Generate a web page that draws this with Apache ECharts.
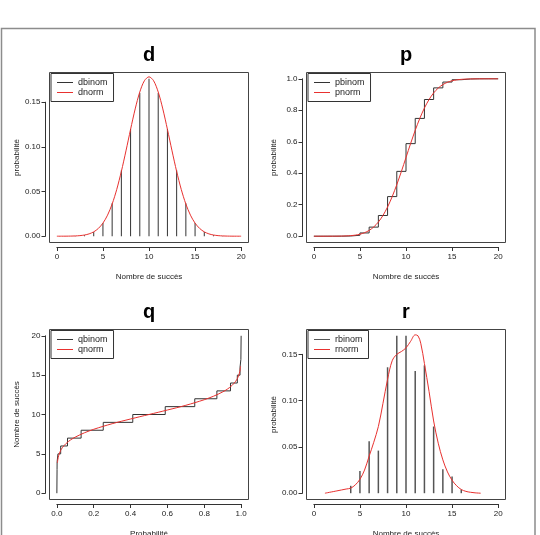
<!DOCTYPE html>
<html>
<head>
<meta charset="utf-8">
<script src="https://cdn.jsdelivr.net/npm/echarts@6/dist/echarts.min.js"></script>
<style>
html, body { margin: 0; padding: 0; background: #fff; }
#chart { width: 540px; height: 535px; }
</style>
</head>
<body>
<div id="chart"></div>
<script>
'use strict';
// nombre de succes (binomiale n = 20, p = 0.5)
var successes = [0, 1, 2, 3, 4, 5, 6, 7, 8, 9, 10, 11, 12, 13, 14, 15, 16, 17, 18, 19, 20];
var dbinomValues = [0.000001, 0.000019, 0.00018, 0.0011, 0.0046, 0.0148, 0.0370, 0.0739, 0.1201, 0.1602, 0.1762,
    0.1602, 0.1201, 0.0739, 0.0370, 0.0148, 0.0046, 0.0011, 0.00018, 0.000019, 0.000001];
var pbinomValues = [0.000001, 0.00002, 0.0002, 0.0013, 0.0059, 0.0207, 0.0577, 0.1316, 0.2517, 0.4119, 0.5881,
    0.7483, 0.8684, 0.9423, 0.9793, 0.9941, 0.9987, 0.9998, 1.0, 1.0, 1.0];

// courbes normales
var normX = [0, 0.5, 1, 1.5, 2, 2.5, 3, 3.5, 4, 4.5, 5, 5.5, 6, 6.5, 7, 7.5, 8, 8.5, 9, 9.5, 10,
    10.5, 11, 11.5, 12, 12.5, 13, 13.5, 14, 14.5, 15, 15.5, 16, 16.5, 17, 17.5, 18, 18.5, 19, 19.5, 20];
var dnormValues = [0.00001, 0.00002, 0.00005, 0.00013, 0.0003, 0.00064, 0.00133, 0.00261, 0.00487, 0.00866, 0.01464,
    0.02355, 0.03602, 0.05241, 0.07254, 0.0955, 0.11959, 0.14247, 0.16143, 0.174, 0.17841,
    0.174, 0.16143, 0.14247, 0.11959, 0.0955, 0.07254, 0.05241, 0.03602, 0.02355, 0.01464,
    0.00866, 0.00487, 0.00261, 0.00133, 0.00064, 0.0003, 0.00013, 0.00005, 0.00002, 0.00001];
var pnormValues = [0.0, 0.0, 0.0, 0.0001, 0.0002, 0.0004, 0.0009, 0.0018, 0.0036, 0.0069, 0.0127,
    0.0221, 0.0368, 0.0588, 0.0899, 0.1318, 0.1855, 0.2512, 0.3274, 0.4115, 0.5,
    0.5885, 0.6726, 0.7488, 0.8145, 0.8682, 0.9101, 0.9412, 0.9632, 0.9779, 0.9873,
    0.9931, 0.9964, 0.9982, 0.9991, 0.9996, 0.9998, 0.9999, 1.0, 1.0, 1.0];

// quantiles
var qbinomProbs = [0, 0.001, 0.0013, 0.0059, 0.0207, 0.0577, 0.1316, 0.2517, 0.4119, 0.5881, 0.7483,
    0.8684, 0.9423, 0.9793, 0.9941, 0.9987, 1];
var qbinomValues = [0, 3, 4, 5, 6, 7, 8, 9, 10, 11, 12, 13, 14, 15, 16, 17, 20];
var qnormProbs = [0.003, 0.005, 0.01, 0.02, 0.03, 0.05, 0.075, 0.1, 0.15, 0.2, 0.25, 0.3, 0.35, 0.4, 0.45, 0.5,
    0.55, 0.6, 0.65, 0.7, 0.75, 0.8, 0.85, 0.9, 0.925, 0.95, 0.97, 0.98, 0.99, 0.995, 0.997];
var qnormValues = [3.86, 4.24, 4.8, 5.41, 5.79, 6.32, 6.78, 7.13, 7.68, 8.12, 8.49, 8.83, 9.14, 9.43, 9.72, 10,
    10.28, 10.57, 10.86, 11.17, 11.51, 11.88, 12.32, 12.87, 13.22, 13.68, 14.21, 14.59, 15.2, 15.76, 16.14];

// tirages aleatoires
var rbinomSuccesses = [4, 5, 6, 7, 8, 9, 10, 11, 12, 13, 14, 15, 16];
var rbinomFreq = [0.008, 0.024, 0.056, 0.046, 0.136, 0.170, 0.170, 0.132, 0.138, 0.072, 0.026, 0.018, 0.004];
var rnormX = [1.2, 2.5, 3.5, 4, 4.5, 5, 5.5, 6, 6.5, 7, 7.5, 8, 8.5, 9, 9.5, 10, 10.5, 11, 11.3, 11.6,
    12, 12.5, 13, 13.5, 14, 14.5, 15, 15.5, 16, 16.5, 17, 17.5, 18.1];
var rnormDensity = [0, 0.0025, 0.0045, 0.0055, 0.009, 0.015, 0.025, 0.04, 0.055, 0.072, 0.097, 0.123, 0.143,
    0.15, 0.153, 0.157, 0.164, 0.171, 0.17, 0.162, 0.14, 0.11, 0.078, 0.054, 0.036, 0.023, 0.014, 0.008,
    0.004, 0.002, 0.001, 0.0004, 0];

var FONT = '"Liberation Sans", Arial, sans-serif';
var BLACK = '#333';
var RED = '#e8312f';

function pairs(xs, ys) {
    return xs.map(function (x, i) { return [x, ys[i]]; });
}
function expand(lo, hi) {
    var d = (hi - lo) * 0.04;
    return [lo - d, hi + d];
}

var panels = [
    { title: 'd', box: [49.5, 72.5, 199, 170], x: expand(0, 20), y: expand(0, Math.max.apply(null, dbinomValues)),
      xt: [0, 20, 5, 0], yt: [0, 0.15, 0.05, 2], xName: 'Nombre de succès', yName: 'probabilité' },
    { title: 'p', box: [306.5, 72.5, 199, 170], x: expand(0, 20), y: expand(0, 1),
      xt: [0, 20, 5, 0], yt: [0, 1, 0.2, 1], xName: 'Nombre de succès', yName: 'probabilité' },
    { title: 'q', box: [49.5, 329.5, 199, 170], x: expand(0, 1), y: expand(0, 20),
      xt: [0, 1, 0.2, 1], yt: [0, 20, 5, 0], xName: 'Probabilité', yName: 'Nombre de succès' },
    { title: 'r', box: [306.5, 329.5, 199, 170], x: expand(0, 20), y: expand(0, Math.max.apply(null, rbinomFreq)),
      xt: [0, 20, 5, 0], yt: [0, 0.15, 0.05, 2], xName: 'Nombre de succès', yName: 'probabilité' }
];

var seriesByPanel = [
    [
        { name: 'dbinom', type: 'bar', data: pairs(successes, dbinomValues), barWidth: 1, color: BLACK },
        { name: 'dnorm', type: 'line', data: pairs(normX, dnormValues), smooth: 0.3, color: RED }
    ],
    [
        { name: 'pbinom', type: 'line', step: 'end', data: pairs(successes, pbinomValues), color: BLACK },
        { name: 'pnorm', type: 'line', data: pairs(normX, pnormValues), smooth: 0.3, color: RED }
    ],
    [
        { name: 'qbinom', type: 'line', step: 'end', data: pairs(qbinomProbs, qbinomValues), color: BLACK },
        { name: 'qnorm', type: 'line', data: pairs(qnormProbs, qnormValues), smooth: 0.3, color: RED }
    ],
    [
        { name: 'rbinom', type: 'bar', data: pairs(rbinomSuccesses, rbinomFreq), barWidth: 1.5, color: '#555' },
        { name: 'rnorm', type: 'line', data: pairs(rnormX, rnormDensity), smooth: 0.35, color: RED }
    ]
];

var grid = [], xAxis = [], yAxis = [], series = [], legend = [], graphic = [];

panels.forEach(function (p, i) {
    var bx = p.box[0], by = p.box[1], bw = p.box[2], bh = p.box[3];
    var xPix = function (v) { return bx + (v - p.x[0]) / (p.x[1] - p.x[0]) * bw; };
    var yPix = function (v) { return by + bh - (v - p.y[0]) / (p.y[1] - p.y[0]) * bh; };
    var aLeft = xPix(p.xt[0]), aRight = xPix(p.xt[1]);
    var aTop = yPix(p.yt[1]), aBottom = yPix(p.yt[0]);

    // grille des donnees (cadre)
    grid.push({ left: bx, top: by, width: bw, height: bh, show: true, borderColor: '#444', borderWidth: 1,
        backgroundColor: 'transparent', outerBoundsMode: 'none', containLabel: false });
    // grille des axes (etendue des graduations)
    grid.push({ left: aLeft, top: aTop, width: aRight - aLeft, height: aBottom - aTop,
        outerBoundsMode: 'none', containLabel: false });

    var hidden = { axisLine: { show: false, onZero: false }, axisTick: { show: false },
        axisLabel: { show: false }, splitLine: { show: false } };
    xAxis.push(Object.assign({ gridIndex: 2 * i, type: 'value', min: p.x[0], max: p.x[1],
        name: p.xName, nameLocation: 'middle', nameGap: 30.5,
        nameTextStyle: { fontSize: 8, color: '#222', fontFamily: FONT } }, hidden));
    yAxis.push(Object.assign({ gridIndex: 2 * i, type: 'value', min: p.y[0], max: p.y[1],
        name: p.yName, nameLocation: 'middle', nameGap: 28.5, nameRotate: 90,
        nameTextStyle: { fontSize: 8, color: '#222', fontFamily: FONT } }, hidden));

    var lineStyle = { show: true, onZero: false, lineStyle: { color: BLACK, width: 1 } };
    xAxis.push({ gridIndex: 2 * i + 1, type: 'value', position: 'bottom',
        min: p.xt[0], max: p.xt[1], interval: p.xt[2], offset: by + bh - aBottom + 4.5,
        axisLine: lineStyle, axisTick: { show: true, length: 4, lineStyle: { color: BLACK } },
        axisLabel: { fontSize: 8, color: '#222', margin: 6, fontFamily: FONT,
            formatter: function (v) { return v.toFixed(p.xt[3]); } },
        splitLine: { show: false } });
    yAxis.push({ gridIndex: 2 * i + 1, type: 'value', position: 'left',
        min: p.yt[0], max: p.yt[1], interval: p.yt[2], offset: aLeft - bx + 4,
        axisLine: lineStyle, axisTick: { show: true, length: 4, lineStyle: { color: BLACK } },
        axisLabel: { fontSize: 8, color: '#222', margin: 5, fontFamily: FONT,
            formatter: function (v) { return v.toFixed(p.yt[3]); } },
        splitLine: { show: false } });

    seriesByPanel[i].forEach(function (s) {
        var out = Object.assign({ xAxisIndex: 2 * i, yAxisIndex: 2 * i, silent: true,
            showSymbol: false, symbol: 'none', clip: true }, s);
        out.itemStyle = { color: s.color };
        if (s.type === 'line') out.lineStyle = { color: s.color, width: 1 };
        series.push(out);
    });

    legend.push({ data: seriesByPanel[i].map(function (s) { return s.name; }),
        left: bx + 1.5, top: by + 1, orient: 'vertical', selectedMode: false,
        icon: 'rect', itemWidth: 16, itemHeight: 1, itemGap: 0,
        padding: [4, 6, 4, 6], borderColor: BLACK, borderWidth: 1, borderRadius: 0,
        backgroundColor: '#fff',
        textStyle: { fontSize: 9, color: '#222', fontFamily: FONT, lineHeight: 10 } });

    graphic.push({ type: 'text', x: bx + bw / 2, y: by - 17.5, silent: true,
        style: { text: p.title, font: 'bold 20px ' + FONT, fill: '#000', align: 'center', verticalAlign: 'middle' } });
});

graphic.push({ type: 'rect', silent: true, shape: { x: 1.5, y: 28.5, width: 533.5, height: 520 },
    style: { fill: null, stroke: '#8c8c8c', lineWidth: 1.5 } });

var chart = echarts.init(document.getElementById('chart'), null, { renderer: 'canvas' });
chart.setOption({
    animation: false,
    backgroundColor: '#fff',
    textStyle: { fontFamily: FONT },
    grid: grid,
    xAxis: xAxis,
    yAxis: yAxis,
    legend: legend,
    graphic: graphic,
    series: series
});
</script>
</body>
</html>
